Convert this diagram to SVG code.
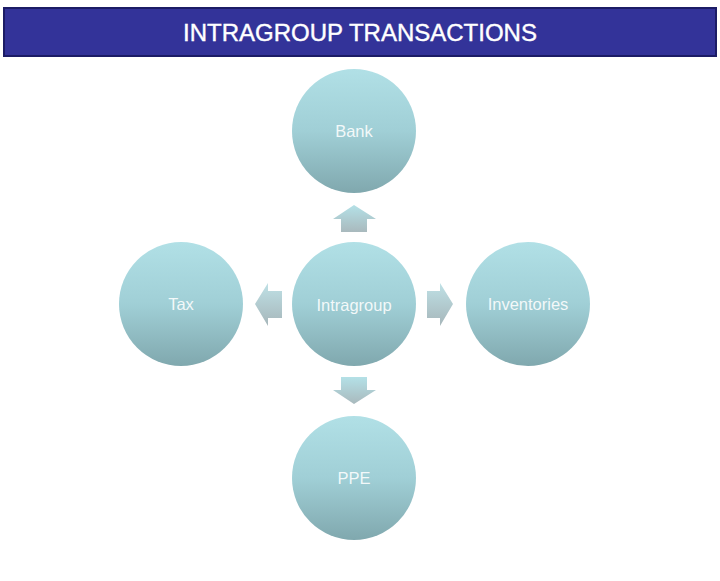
<svg xmlns="http://www.w3.org/2000/svg" width="720" height="581" viewBox="0 0 720 581">
<defs>
<linearGradient id="cg" x1="0" y1="0" x2="0" y2="1">
<stop offset="0" stop-color="#b1e0e6"/>
<stop offset="0.5" stop-color="#a0cfd6"/>
<stop offset="1" stop-color="#80a8ae"/>
</linearGradient>
<linearGradient id="avg" x1="0" y1="0" x2="0" y2="1">
<stop offset="0" stop-color="#b4e1e7"/>
<stop offset="1" stop-color="#a9b9bd"/>
</linearGradient>
<linearGradient id="ahg" x1="0" y1="0" x2="0" y2="1">
<stop offset="0" stop-color="#bfe1e6"/>
<stop offset="1" stop-color="#a6b6ba"/>
</linearGradient>
<style>
.node{fill:url(#cg);}
.lbl{font-family:"Liberation Sans",Arial,sans-serif;font-size:16.5px;fill:#ffffff;fill-opacity:0.88;text-anchor:middle;}
.arr{stroke:none;}
</style>
</defs>
<rect width="720" height="581" fill="#ffffff"/>
<g id="header">
<rect x="4" y="8" width="712" height="48" fill="#333399" stroke="#1c1c66" stroke-width="2"/>
<text x="360" y="41" font-family="'Liberation Sans',Arial,sans-serif" font-size="24" fill="#ffffff" stroke="#ffffff" stroke-width="0.4" text-anchor="middle">INTRAGROUP TRANSACTIONS</text>
</g>
<g id="connectors">
<path class="arr" fill="url(#avg)" d="M354,205 L376,219 L367,219 L367,232 L341,232 L341,219 L333,219 Z"/>
<path class="arr" fill="url(#avg)" d="M354,404 L376,390 L367,390 L367,377 L341,377 L341,390 L333,390 Z"/>
<path class="arr" fill="url(#ahg)" d="M255,304 L268,283 L268,291 L282,291 L282,318 L268,318 L268,326 Z"/>
<path class="arr" fill="url(#ahg)" d="M453,304 L440,283 L440,291 L427,291 L427,318 L440,318 L440,326 Z"/>
</g>
<g id="node-intragroup">
<circle class="node" cx="354" cy="304" r="62"/>
<text class="lbl" x="354" y="311" font-size="18" fill-opacity="1">Intragroup</text>
</g>
<g id="node-bank">
<circle class="node" cx="354" cy="131" r="62"/>
<text class="lbl" x="354" y="137">Bank</text>
</g>
<g id="node-tax">
<circle class="node" cx="181" cy="304" r="62"/>
<text class="lbl" x="181" y="310">Tax</text>
</g>
<g id="node-inventories">
<circle class="node" cx="528" cy="304" r="62"/>
<text class="lbl" x="528" y="310">Inventories</text>
</g>
<g id="node-ppe">
<circle class="node" cx="354" cy="478" r="62"/>
<text class="lbl" x="354" y="484">PPE</text>
</g>
</svg>
